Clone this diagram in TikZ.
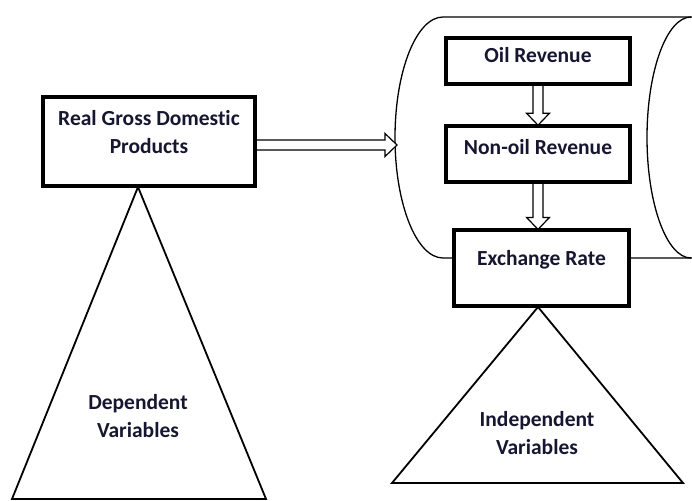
\documentclass[tikz,border=0pt]{standalone}
\usepackage{fontspec}
\setmainfont{Carlito}[Ligatures=NoCommon]
\usetikzlibrary{calc,positioning}
\definecolor{txtnavy}{RGB}{22,22,48}

\tikzset{
  box/.style={draw, line width=2.6pt, fill=white, inner sep=0pt},
  lbl/.style={font=\bfseries\fontsize{21.5}{28}\selectfont, text=txtnavy,
    align=center, inner sep=0pt, anchor=north},
  tri/.style={line width=1.8pt},
  can/.style={line width=1.3pt},
  blockarrow/.style={draw, fill=white, line width=1.2pt, to path={
    ($(\tikztotarget)!12pt!(\tikztostart)$) coordinate (bh)
    ($(\tikztostart)!5pt!90:(\tikztotarget)$)
    -- ($(bh)!5pt!90:(\tikztotarget)$)
    -- ($(bh)!11.5pt!90:(\tikztotarget)$)
    -- (\tikztotarget)
    -- ($(bh)!11.5pt!-90:(\tikztotarget)$)
    -- ($(bh)!5pt!-90:(\tikztotarget)$)
    -- ($(\tikztostart)!5pt!-90:(\tikztotarget)$) -- cycle}}
}

\begin{document}
\begin{tikzpicture}[x=1pt,y=-1pt]
\useasboundingbox (0,0) rectangle (692,500);
\clip (0,0) rectangle (692,500);

% can round the independent variables
\draw[can] (700,17) -- (443,17)
  arc[start angle=270, end angle=90, x radius=48, y radius=120.5] -- (700,258);
\draw[can] (691,17) arc[start angle=270, end angle=90, x radius=44, y radius=120.5];
\coordinate (canin) at (397,145);

% triangles
\coordinate (depapex) at (138,187);
\coordinate (indapex) at (538,307);
\draw[tri] (depapex) -- (12,499) -- (266,499) -- cycle;
\draw[tri] (indapex) -- (392,483) -- (683,483) -- cycle;

% boxes
\node[box, minimum width=211pt, minimum height=88pt] at (149,141.5) (rgdp) {};
\node[box, minimum width=183pt, minimum height=45pt] at (538,61) (oil) {};
\node[box, minimum width=183pt, minimum height=55pt] at (538,154) (nonoil) {};
\node[box, minimum width=174pt, minimum height=75pt] at (541.5,268.2) (exch) {};

\coordinate (gdpout) at (rgdp.east |- canin);
\coordinate (exchin) at (nonoil.south |- exch.north);

% arrows
\path (gdpout) edge[blockarrow] (canin)
  (oil.south) edge[blockarrow] (nonoil.north)
  (nonoil.south) edge[blockarrow] (exchin);

% redraw box borders over the arrow ends
\foreach \b in {rgdp,oil,nonoil,exch}
  \draw[line width=2.6pt] (\b.north west) rectangle (\b.south east);

% texts
\node[lbl, below=14.5pt of rgdp.north] (rgdptxt) {Real Gross Domestic\\Products};
\node[lbl, below=10.2pt of oil.north] (oiltxt) {Oil Revenue};
\node[lbl, below=13.9pt of nonoil.north] (nonoiltxt) {Non-oil Revenue};
\node[lbl, below=20.9pt of exch.north] (exchtxt) {Exchange Rate};
\node[lbl] at (138,394.5) (deptxt) {Dependent\\Variables};
\node[lbl] at (537,411.2) (indtxt) {Independent\\Variables};

\end{tikzpicture}
\end{document}
